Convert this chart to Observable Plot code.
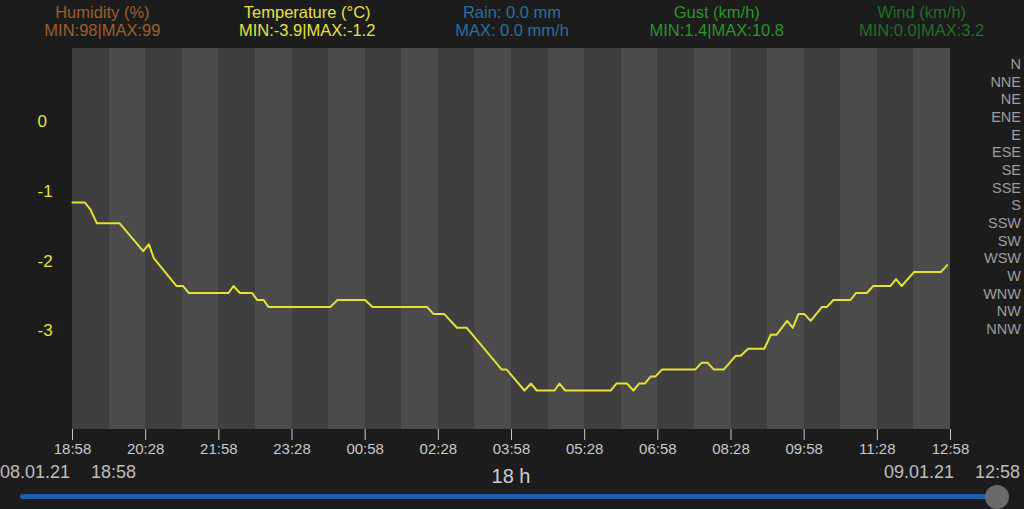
<!DOCTYPE html>
<html>
<head>
<meta charset="utf-8">
<script src="https://cdn.jsdelivr.net/npm/d3@7"></script>
<script src="https://cdn.jsdelivr.net/npm/@observablehq/plot@0.6"></script>
<style>
  html, body { margin: 0; padding: 0; background: #1c1c1c; }
  body { font-family: "Liberation Sans", Arial, sans-serif; }
  #wrap { position: relative; width: 1024px; height: 509px; overflow: hidden; background: #1c1c1c; }
  #header { display: flex; height: 48px; box-sizing: border-box; padding-top: 3px; }
  #header div { width: 204.8px; text-align: center; font-size: 16.5px; line-height: 18px; white-space: nowrap; }
  #compass { position: absolute; right: 3px; top: 56px; text-align: right; font-size: 14.5px; line-height: 17.67px; color: #9c9c9c; }
  .abs { position: absolute; white-space: nowrap; }
  .date { font-size: 18px; line-height: 21px; color: #bdbdbd; top: 462px; }
  #span { font-size: 20px; line-height: 24px; color: #cfcfcf; top: 464px; left: 0; width: 1022px; text-align: center; }
  #track { position: absolute; left: 20px; top: 494px; width: 976px; height: 5px; border-radius: 3px; background: #1f5ea8; }
  #knob { position: absolute; left: 985px; top: 485px; width: 24px; height: 24px; border-radius: 50%; background: #6a6a6a; }
</style>
</head>
<body>
<div id="wrap">
  <div id="header"></div>
  <div id="chart"></div>
  <div id="compass"></div>
  <div class="abs date" style="left:0px">08.01.21</div>
  <div class="abs date" style="left:91px">18:58</div>
  <div class="abs" id="span">18 h</div>
  <div class="abs date" style="left:884px">09.01.21</div>
  <div class="abs date" style="left:975px">12:58</div>
  <div id="track"></div>
  <div id="knob"></div>
</div>
<script>
// ---- data ----
const legendTitles = ["Humidity (%)", "Temperature (°C)", "Rain: 0.0 mm", "Gust (km/h)", "Wind (km/h)"];
const legendStats = ["MIN:98|MAX:99", "MIN:-3.9|MAX:-1.2", "MAX: 0.0 mm/h", "MIN:1.4|MAX:10.8", "MIN:0.0|MAX:3.2"];
const legendColors = ["#9c5f2a", "#e3e33a", "#28709c", "#2a9528", "#256b28"];

// minutes after 08.01.21 18:58
const minutes = [0, 15, 22, 30, 58, 87, 94, 100, 128, 136, 143, 192, 198, 206, 221, 227, 235, 241, 317, 326,
  360, 369, 436, 444, 457, 473, 485, 528, 534, 556, 564, 571, 593, 599, 606, 662, 669, 682, 690, 697,
  704, 711, 717, 725, 766, 774, 781, 789, 801, 816, 822, 831, 851, 859, 866, 879, 886, 893, 900, 908,
  922, 928, 936, 957, 964, 977, 985, 1006, 1013, 1020, 1035, 1068, 1076];
const temps = [-1.2, -1.2, -1.3, -1.5, -1.5, -1.9, -1.8, -2.0, -2.4, -2.4, -2.5, -2.5, -2.4, -2.5, -2.5, -2.6, -2.6, -2.7, -2.7, -2.6,
  -2.6, -2.7, -2.7, -2.8, -2.8, -3.0, -3.0, -3.6, -3.6, -3.9, -3.8, -3.9, -3.9, -3.8, -3.9, -3.9, -3.8, -3.8, -3.9, -3.8,
  -3.8, -3.7, -3.7, -3.6, -3.6, -3.5, -3.5, -3.6, -3.6, -3.4, -3.4, -3.3, -3.3, -3.1, -3.1, -2.9, -3.0, -2.8, -2.8, -2.9,
  -2.7, -2.7, -2.6, -2.6, -2.5, -2.5, -2.4, -2.4, -2.3, -2.4, -2.2, -2.2, -2.1];

const xTicks = [0, 90, 180, 270, 360, 450, 540, 630, 720, 810, 900, 990, 1080];
const xTickLabels = ["18:58", "20:28", "21:58", "23:28", "00:58", "02:28", "03:58", "05:28", "06:58", "08:28", "09:58", "11:28", "12:58"];
const yTicks = [0, -1, -2, -3];
const yTickLabels = ["0", "-1", "-2", "-3"];
const compassLabels = ["N", "NNE", "NE", "ENE", "E", "ESE", "SE", "SSE", "S", "SSW", "SW", "WSW", "W", "WNW", "NW", "NNW"];
const bandStarts = [0, 45, 90, 135, 180, 225, 270, 315, 360, 405, 450, 495, 540, 585, 630, 675, 720, 765, 810, 855, 900, 945, 990, 1035];
const bandColors = ["#3f3f3f", "#4b4b4b"];

// ---- header ----
const header = document.getElementById("header");
legendTitles.forEach((t, i) => {
  const d = document.createElement("div");
  d.style.color = legendColors[i];
  d.innerHTML = `<span>${t}</span><br><span>${legendStats[i]}</span>`;
  header.appendChild(d);
});
document.getElementById("compass").innerHTML = compassLabels.map(c => `<div>${c}</div>`).join("");

// ---- chart ----
const data = minutes.map((m, i) => ({m, t: temps[i]}));
const bands = bandStarts.map((s, i) => ({x1: s, x2: s + 45, fill: bandColors[i % 2]}));
const xLabel = new Map(xTicks.map((t, i) => [t, xTickLabels[i]]));
const yLabel = new Map(yTicks.map((t, i) => [t, yTickLabels[i]]));

const chart = Plot.plot({
  width: 1024,
  height: 461,
  marginTop: 0,
  marginBottom: 80,
  marginLeft: 72,
  marginRight: 74,
  style: {background: "transparent", fontFamily: "'Liberation Sans', Arial, sans-serif", overflow: "visible"},
  x: {domain: [0, 1080], axis: null},
  y: {domain: [-4.46, 1.01], axis: null},
  marks: [
    Plot.rect(bands, {x1: "x1", x2: "x2", fill: "fill", shapeRendering: "crispEdges"}),
    Plot.line(data, {x: "m", y: "t", stroke: "#e3e336", strokeWidth: 2}),
    Plot.axisX({ticks: xTicks, tickFormat: d => xLabel.get(d), tickSize: 11, tickPadding: 3, color: "#c8c8c8", fontSize: 15, label: null}),
    Plot.axisY({ticks: yTicks, tickFormat: d => yLabel.get(d), tickSize: 0, tickPadding: 35, textAnchor: "start", color: "#e3e336", fontSize: 17, dy: 3, label: null})
  ]
});
document.getElementById("chart").appendChild(chart);
</script>
</body>
</html>
